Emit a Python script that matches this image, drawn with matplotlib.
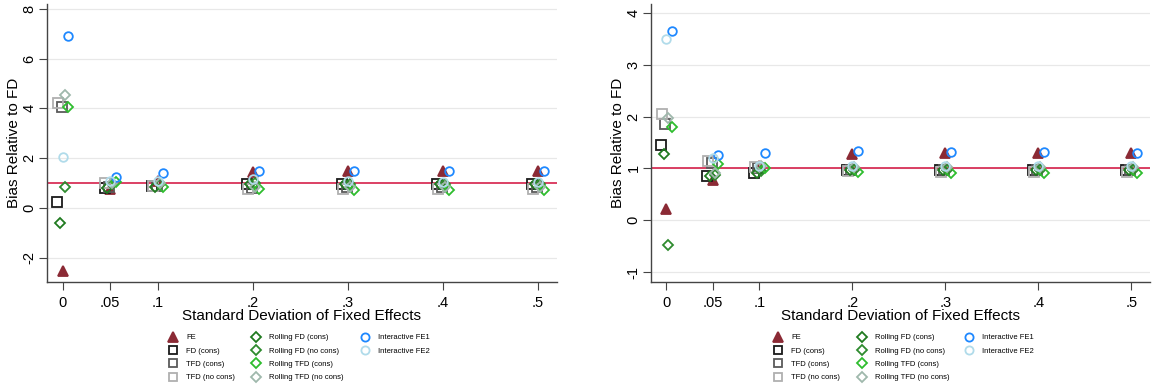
import matplotlib
matplotlib.use("Agg")
import matplotlib.pyplot as plt

plt.rcParams['font.family'] = ['Liberation Sans', 'DejaVu Sans']

sd_values = [0, 0.05, 0.1, 0.2, 0.3, 0.4, 0.5]
x_tick_labels = ["0", ".05", ".1", ".2", ".3", ".4", ".5"]

series_names = ["FE", "FD (cons)", "TFD (cons)", "TFD (no cons)",
                "Rolling FD (cons)", "Rolling FD (no cons)",
                "Rolling TFD (cons)", "Rolling TFD (no cons)",
                "Interactive FE1", "Interactive FE2"]

# Left panel values
left_fe        = [-2.55, 0.75, 1.10, 1.45, 1.50, 1.50, 1.50]
left_fd_cons   = [0.25, 0.80, 0.90, 0.95, 0.95, 0.95, 0.95]
left_tfd_cons  = [4.05, 0.85, 0.90, 0.80, 0.85, 0.85, 0.85]
left_tfd_nc    = [4.20, 1.00, 0.90, 0.75, 0.75, 0.75, 0.75]
left_rfd_cons  = [-0.60, 0.80, 0.85, 0.95, 0.95, 0.95, 0.95]
left_rfd_nc    = [0.85, 0.95, 0.95, 1.00, 0.95, 0.95, 0.95]
left_rtfd_cons = [4.05, 1.05, 0.85, 0.75, 0.70, 0.70, 0.70]
left_rtfd_nc   = [4.55, 1.00, 1.00, 0.85, 0.85, 0.85, 0.85]
left_ife1      = [6.90, 1.25, 1.40, 1.50, 1.50, 1.50, 1.48]
left_ife2      = [2.05, 1.10, 1.10, 1.15, 1.10, 1.05, 1.05]

# Right panel values
right_fe        = [0.22, 0.77, 1.05, 1.27, 1.30, 1.30, 1.30]
right_fd_cons   = [1.45, 0.85, 0.92, 0.97, 0.97, 0.97, 0.97]
right_tfd_cons  = [1.85, 1.10, 1.00, 0.97, 0.97, 0.97, 0.97]
right_tfd_nc    = [2.05, 1.15, 1.03, 0.95, 0.93, 0.93, 0.93]
right_rfd_cons  = [1.28, 0.85, 0.92, 0.97, 0.97, 0.97, 0.97]
right_rfd_nc    = [-0.48, 0.88, 0.95, 0.97, 0.97, 0.97, 0.97]
right_rtfd_cons = [1.80, 1.08, 1.00, 0.93, 0.92, 0.92, 0.92]
right_rtfd_nc   = [1.98, 0.92, 1.05, 1.03, 1.03, 1.03, 1.03]
right_ife1      = [3.65, 1.25, 1.30, 1.33, 1.32, 1.32, 1.30]
right_ife2      = [3.50, 1.20, 1.05, 1.05, 1.05, 1.05, 1.05]

left_data = [left_fe, left_fd_cons, left_tfd_cons, left_tfd_nc, left_rfd_cons,
             left_rfd_nc, left_rtfd_cons, left_rtfd_nc, left_ife1, left_ife2]
right_data = [right_fe, right_fd_cons, right_tfd_cons, right_tfd_nc, right_rfd_cons,
              right_rfd_nc, right_rtfd_cons, right_rtfd_nc, right_ife1, right_ife2]

# styles: marker, color, filled, markersize, x jitter
styles = [
    ("^", "#8b2a35", True, 7, 0.0),
    ("s", "#1a1a1a", False, 6.5, -0.006),
    ("s", "#5a5a5a", False, 6.5, -0.001),
    ("s", "#b0b0b0", False, 6.5, -0.005),
    ("D", "#1f7a1f", False, 5.2, -0.003),
    ("D", "#2e8b2e", False, 5.2, 0.002),
    ("D", "#2ebd2e", False, 5.2, 0.006),
    ("D", "#9fb8ac", False, 5.2, 0.002),
    ("o", "#1e88ff", False, 6.2, 0.006),
    ("o", "#b0dbea", False, 6.2, 0.0),
]

W, H = 1152, 391
fig = plt.figure(figsize=(W / 100, H / 100), dpi=100)
ax1 = fig.add_axes([47 / W, 1 - 282 / H, (557 - 47) / W, (282 - 4) / H])
ax2 = fig.add_axes([651 / W, 1 - 282 / H, (1150 - 651) / W, (282 - 4) / H])

legend_groups = [(0, 4), (4, 8), (8, 10)]


def draw(ax, data, ylim, yticks, col_px):
    ax.axhline(1, color="#d5204a", lw=1.2, zorder=1)
    handles = []
    for vals, (m, c, filled, ms, off), name in zip(data, styles, series_names):
        xs = [x + off for x in sd_values]
        h, = ax.plot(xs, vals, linestyle="none", marker=m, markersize=ms,
                     markerfacecolor=c if filled else "none", markeredgecolor=c,
                     markeredgewidth=1.3, label=name, zorder=3)
        handles.append(h)
    ax.set_xlim(-0.0165, 0.52)
    ax.set_ylim(*ylim)
    ax.set_yticks(yticks)
    ax.set_yticklabels([str(t) for t in yticks], rotation=90, va="center")
    ax.set_xticks(sd_values)
    ax.set_xticklabels(x_tick_labels)
    ax.tick_params(axis="both", labelsize=10.5, length=6, color="#444444",
                   direction="out")
    ax.tick_params(axis="x", pad=4)
    ax.tick_params(axis="y", pad=1.5)
    ax.grid(axis="y", color="#e8e8e8", lw=0.9)
    ax.set_axisbelow(True)
    for s in ["top", "right"]:
        ax.spines[s].set_visible(False)
    for s in ["left", "bottom"]:
        ax.spines[s].set_color("#444444")
        ax.spines[s].set_linewidth(1.0)
    ax.set_ylabel("Bias Relative to FD", fontsize=11, labelpad=1)
    ax.set_xlabel("Standard Deviation of Fixed Effects", fontsize=11, labelpad=-1)
    for (a, b), xpx in zip(legend_groups, col_px):
        fig.legend(handles[a:b], series_names[a:b], loc="upper left",
                   bbox_to_anchor=((xpx - 4.5) / W, 1 - 334 / H),
                   frameon=False, fontsize=5.5, handlelength=1.2,
                   handletextpad=1.1, labelspacing=0.78, borderpad=0,
                   borderaxespad=0, markerscale=0.95)


draw(ax1, left_data, (-2.98, 8.2), [-2, 0, 2, 4, 6, 8], [173, 256, 365])
draw(ax2, right_data, (-1.19, 4.17), [-1, 0, 1, 2, 3, 4], [778, 862, 969])

fig.savefig("out.png", dpi=100, facecolor="white")
